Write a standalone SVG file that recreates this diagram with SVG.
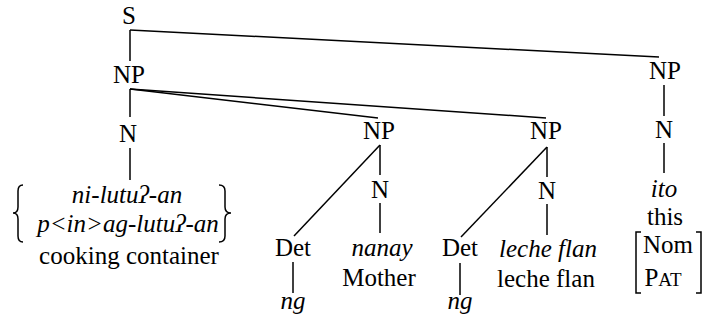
<svg xmlns="http://www.w3.org/2000/svg" width="705" height="323" viewBox="0 0 705 323">
<style>
text{font-family:"Liberation Serif","Times New Roman",serif;font-size:25px;fill:#000;text-anchor:middle}
.i{font-style:italic}
.e{stroke:#000;stroke-width:1.5;fill:none}
</style>
<rect width="705" height="323" fill="#fff"/>
<g id="edges">
<line class="e" x1="130" y1="30" x2="130" y2="61"/>
<line class="e" x1="130" y1="30" x2="659" y2="57"/>
<line class="e" x1="130" y1="89" x2="130" y2="117"/>
<line class="e" x1="130" y1="89" x2="378" y2="118"/>
<line class="e" x1="130" y1="89" x2="546" y2="118"/>
<line class="e" x1="130" y1="148" x2="130" y2="180"/>
<line class="e" x1="380" y1="145" x2="380" y2="175"/>
<line class="e" x1="380" y1="145" x2="294" y2="236"/>
<line class="e" x1="380" y1="203" x2="380" y2="233"/>
<line class="e" x1="293" y1="262" x2="293" y2="293"/>
<line class="e" x1="547" y1="147" x2="547" y2="177"/>
<line class="e" x1="547" y1="147" x2="461" y2="237"/>
<line class="e" x1="547" y1="204" x2="547" y2="235"/>
<line class="e" x1="460" y1="263" x2="460" y2="295"/>
<line class="e" x1="664" y1="85" x2="664" y2="116"/>
<line class="e" x1="664" y1="143" x2="664" y2="173"/>
</g>
<g id="S"><text x="129" y="24">S</text></g>
<g id="NP1"><text x="129" y="83">NP</text></g>
<g id="N1"><text x="128" y="142">N</text></g>
<g id="leaf1">
<path class="e" d="M23,185 Q18,185 18,191 L18,207 Q18,213 13,213 Q18,213 18,219 L18,236 Q18,242 23,242"/>
<path class="e" d="M219,185 Q225,185 225,191 L225,207 Q225,213 231,213 Q225,213 225,219 L225,236 Q225,242 219,242"/>
<text class="i" x="127" y="203">ni-lutuʔ-an</text>
<text class="i" x="128" y="232">p&lt;in&gt;ag-lutuʔ-an</text>
<text x="129" y="264">cooking container</text>
</g>
<g id="NP2"><text x="379" y="139">NP</text></g>
<g id="Det1"><text x="293" y="256">Det</text></g>
<g id="ng1"><text class="i" x="293" y="309">ng</text></g>
<g id="N2"><text x="380" y="198">N</text></g>
<g id="leaf2">
<text class="i" x="382" y="256">nanay</text>
<text x="379" y="286">Mother</text>
</g>
<g id="NP3"><text x="546" y="139">NP</text></g>
<g id="Det2"><text x="460" y="256">Det</text></g>
<g id="ng2"><text class="i" x="460" y="309">ng</text></g>
<g id="N3"><text x="547" y="199">N</text></g>
<g id="leaf3">
<text class="i" x="548" y="257">leche flan</text>
<text x="546" y="287">leche flan</text>
</g>
<g id="NP4"><text x="665" y="79">NP</text></g>
<g id="N4"><text x="664" y="138">N</text></g>
<g id="leaf4">
<text class="i" x="664" y="197">ito</text>
<text x="665" y="225">this</text>
<path class="e" d="M641,232 L636,232 L636,293 L641,293"/>
<path class="e" d="M696,232 L701,232 L701,293 L696,293"/>
<text x="668" y="253">Nom</text>
<text x="663" y="286">P<tspan font-size="19">AT</tspan></text>
</g>
</svg>
